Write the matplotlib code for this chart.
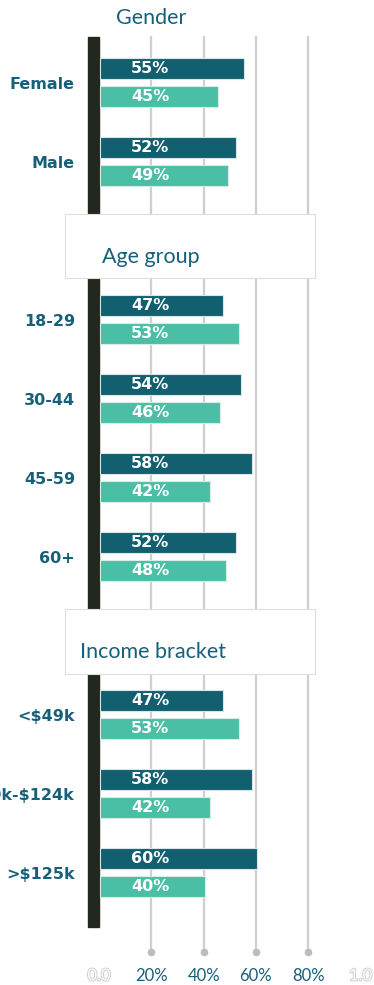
'''
split bar chart: share by gender / age / income
'''

import matplotlib
matplotlib.use('Agg')
import matplotlib.pyplot as plt
import matplotlib.patheffects as pe
from matplotlib.patches import Rectangle

'''
--------------------> DATA <----------------------------
'''

section_names = ['Gender', 'Age group', 'Income bracket']
categories = ['Female', 'Male', '18-29', '30-44', '45-59', '60+',
              '<$49k', '$50k-$124k', '>$125k']
section_of = [0, 0, 1, 1, 1, 1, 2, 2, 2]
dark_vals = [55, 52, 47, 54, 58, 52, 47, 58, 60]
light_vals = [45, 49, 53, 46, 42, 48, 53, 42, 40]
tick_vals = [0, 20, 40, 60, 80, 100]
tick_labels = ['0.0', '20%', '40%', '60%', '80%', '1.0']

'''
--------------------> STYLE <----------------------------
'''

dark_color = '#125f70'
light_color = '#4bbfa5'
text_color = '#17607a'
axis_color = '#23281f'
grid_color = '#cfcfcf'

bar_h = 0.27
bar_off = 0.177

'''
--------------------> LAYOUT <----------------------------
'''

# one slot per category, an extra slot where a new section starts
slots = []
header_slots = []
s = 0
for i, sec in enumerate(section_of):
    if i > 0 and sec != section_of[i - 1]:
        header_slots.append(s)
        s += 1
    slots.append(s)
    s += 1
last = slots[-1]

'''
--------------------> PLOT <----------------------------
'''

fig = plt.figure(figsize=(3.74, 9.85), dpi=100)
ax = fig.add_axes([0, 0, 1, 1])
ax.set_xlim(-37.86, 105.16)
ax.set_ylim(last + 1.42, -1.044)
ax.axis('off')

# grid lines with dot at the bottom
for t in tick_vals[1:-1]:
    ax.plot([t, t], [-0.577, last + 1.0], color=grid_color, lw=1.6, zorder=1)
    ax.plot(t, last + 1.0, 'o', ms=4.5, color='#bdbdbd', zorder=1)

# thick dark axis line at zero
ax.add_patch(Rectangle((-4.2, -0.577), 4.2, last + 0.68 + 0.577,
                       color=axis_color, zorder=2))

ax.barh([y - bar_off for y in slots], dark_vals, height=bar_h, left=0.4,
        color=dark_color, edgecolor='#d8e4e6', lw=0.8, zorder=3)
ax.barh([y + bar_off for y in slots], light_vals, height=bar_h, left=0.4,
        color=light_color, edgecolor='#d8ece6', lw=0.8, zorder=3)

for y, cat, dv, lv in zip(slots, categories, dark_vals, light_vals):
    ax.text(19.5, y - bar_off, f'{dv}%', color='white', fontsize=11.5,
            fontweight='bold', ha='center', va='center', zorder=4)
    ax.text(19.5, y + bar_off, f'{lv}%', color='white', fontsize=11.5,
            fontweight='bold', ha='center', va='center', zorder=4)
    ax.text(-9.2, y + 0.02, cat, color=text_color, fontsize=11.5,
            fontweight='bold', ha='right', va='center', zorder=4,
            parse_math=False)

# section headers
ax.text(6.5, -0.81, section_names[0], color=text_color, fontsize=15.5,
        family='Lato', ha='left', va='center')
header_x = [1.0, -7.3]
for hs, name, hx in zip(header_slots, section_names[1:], header_x):
    ax.add_patch(Rectangle((-13.0, hs - 0.34), 95.6, 0.82, facecolor='white',
                           edgecolor='#dddddd', lw=0.8, zorder=5))
    ax.text(hx, hs + 0.21, name, color=text_color, fontsize=15.5,
            family='Lato', ha='left', va='center', zorder=6)

# bottom tick labels; the ends are hollow
for t, lab in zip(tick_vals, tick_labels):
    if t in (tick_vals[0], tick_vals[-1]):
        ax.text(t, last + 1.3, lab, color='white', fontsize=12, family='Lato',
                ha='center', va='center',
                path_effects=[pe.withStroke(linewidth=1.2, foreground='#c8c8c8')])
    else:
        ax.text(t, last + 1.3, lab, color=text_color, fontsize=12,
                family='Lato', ha='center', va='center')

plt.savefig('out.png', dpi=100)
